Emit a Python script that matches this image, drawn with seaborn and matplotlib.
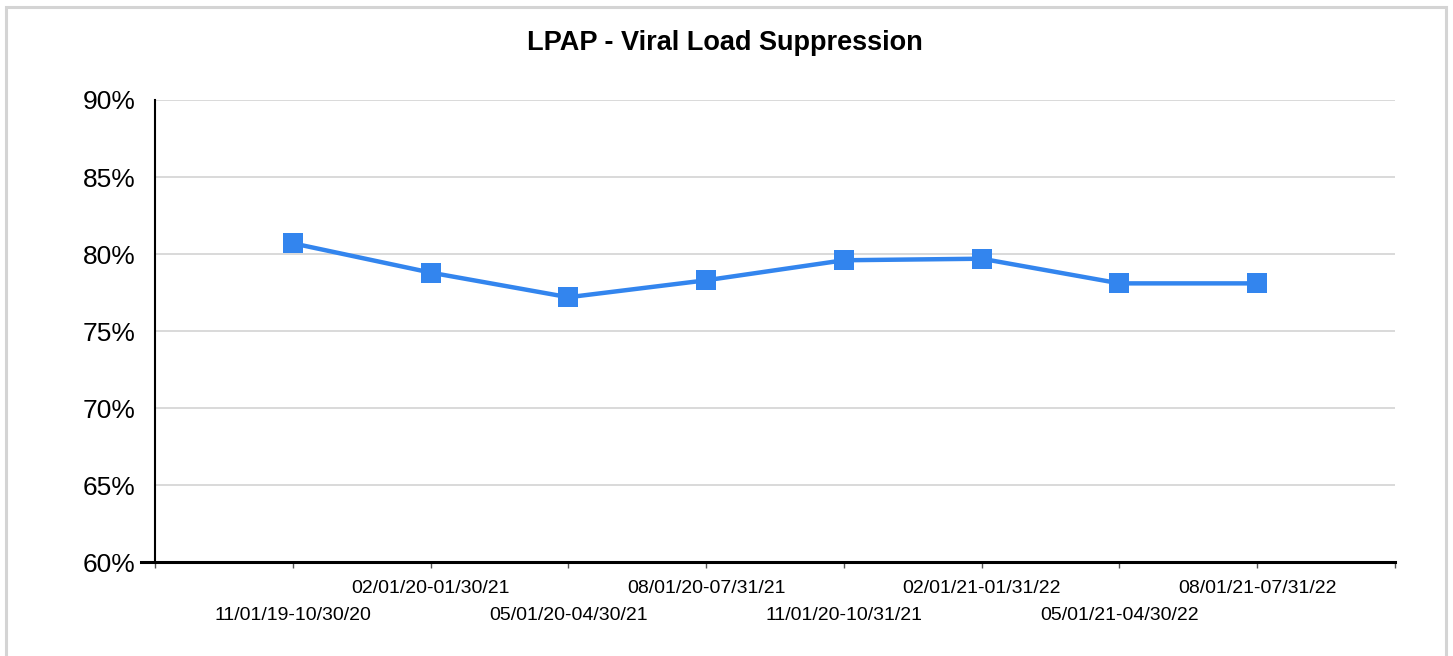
import matplotlib
matplotlib.use("Agg")
import matplotlib.pyplot as plt
import pandas as pd
import seaborn as sns
from matplotlib.patches import Rectangle

TITLE = "LPAP - Viral Load Suppression"
PERIODS = [
    "11/01/19-10/30/20",
    "02/01/20-01/30/21",
    "05/01/20-04/30/21",
    "08/01/20-07/31/21",
    "11/01/20-10/31/21",
    "02/01/21-01/31/22",
    "05/01/21-04/30/22",
    "08/01/21-07/31/22",
]
SUPPRESSION = [80.7, 78.8, 77.2, 78.3, 79.6, 79.7, 78.1, 78.1]
Y_TICKS = [60, 65, 70, 75, 80, 85, 90]

LINE_COLOR = "#3385ee"


def main() -> None:
    sns.set_theme(style="white")
    plt.rcParams["font.family"] = ["Liberation Sans", "DejaVu Sans"]

    df = pd.DataFrame({"period": PERIODS, "pct": SUPPRESSION})

    fig = plt.figure(figsize=(14.53, 6.56), dpi=100)
    ax = fig.add_axes([0.1067, 0.1428, 0.8534, 0.7048])

    # light grey frame round the whole chart
    fig.patches.append(Rectangle((5.5 / 1453, -0.05), 1440 / 1453, 1.0393,
                                 transform=fig.transFigure, fill=False,
                                 edgecolor="#d4d4d4", lw=2.2, zorder=0))

    ax.yaxis.grid(True, color="#d9d9d9", lw=1.4)
    ax.set_axisbelow(True)

    sns.lineplot(data=df, x="period", y="pct", ax=ax, color=LINE_COLOR,
                 linewidth=3.2, marker="s", markersize=14.5,
                 markeredgecolor=LINE_COLOR, markeredgewidth=0, sort=False)

    ax.set_xlim(-1, 8)
    ax.set_ylim(60, 90)
    ax.set_yticks(Y_TICKS)
    ax.set_yticklabels([f"{v}%" for v in Y_TICKS], fontsize=19, color="black")
    ax.tick_params(axis="y", length=0, pad=14)

    # ticks at every slot edge, labels alternate between two rows
    positions = list(range(-1, 9))
    ax.set_xticks(positions)
    ax.set_xticklabels([""] + PERIODS + [""], fontsize=14, color="black")
    ax.tick_params(axis="x", bottom=True, length=4, width=1, color="#555555")
    for pos, tick in zip(positions, ax.xaxis.get_major_ticks()):
        tick.set_pad(28 if pos % 2 == 0 else 9)

    ax.set_xlabel("")
    ax.set_ylabel("")

    for side in ("top", "right"):
        ax.spines[side].set_visible(False)
    ax.spines["left"].set_color("black")
    ax.spines["left"].set_linewidth(1.5)
    ax.spines["bottom"].set_color("black")
    ax.spines["bottom"].set_linewidth(2.2)
    ax.spines["bottom"].set_bounds(-1.1, 8)

    fig.text(0.4986, 0.934, TITLE, ha="center", va="center",
             fontsize=19.5, fontweight="bold", color="black")

    fig.savefig("out.png", dpi=100)
    plt.close(fig)


if __name__ == "__main__":
    main()
